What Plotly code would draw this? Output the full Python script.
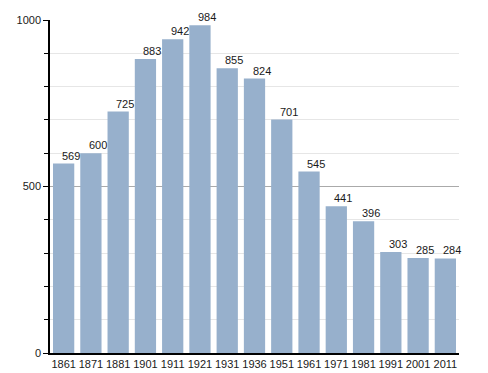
import plotly.graph_objects as go

years = ["1861", "1871", "1881", "1901", "1911", "1921", "1931", "1936",
         "1951", "1961", "1971", "1981", "1991", "2001", "2011"]
population = [569, 600, 725, 883, 942, 984, 855, 824, 701, 545, 441, 396, 303, 285, 284]
y_ticks = [0, 500, 1000]

fig = go.Figure()
fig.add_trace(go.Bar(
    x=list(range(len(years))), y=population,
    marker=dict(color="#97b0cc", line=dict(width=0)),
    hovertext=years, hoverinfo="text+y",
))

for i, v in enumerate(population):
    fig.add_annotation(x=i, y=v, text=str(v), showarrow=False,
                       yanchor="bottom", xshift=7, yshift=0,
                       font=dict(family="Liberation Sans, Arial", size=11, color="#1a1a1a"))

fig.update_layout(
    width=480, height=365,
    margin=dict(l=42, r=29, t=12, b=20, autoexpand=False),
    paper_bgcolor="white", plot_bgcolor="white",
    bargap=0.22,
    showlegend=False,
    font=dict(family="Liberation Sans, Arial", size=11, color="#1a1a1a"),
)
fig.update_xaxes(
    range=[-0.5, 14.5], automargin=False,
    tickmode="array", tickvals=list(range(len(years))), ticktext=years,
    showline=True, linecolor="black", linewidth=1.5,
    ticks="", showgrid=False, zeroline=False,
    tickfont=dict(size=11),
)
fig.update_yaxes(
    range=[0, 1000], tickvals=y_ticks, automargin=False,
    showline=True, linecolor="black", linewidth=1.5,
    ticks="outside", ticklen=5, tickcolor="black",
    showgrid=True, gridcolor="#aaaaaa", gridwidth=1,
    zeroline=False,
    tickfont=dict(size=11),
    minor=dict(dtick=100, showgrid=True, gridcolor="#e6e6e6", gridwidth=1,
               ticks="outside", ticklen=4, tickcolor="black"),
)

fig.write_html("out.html")
